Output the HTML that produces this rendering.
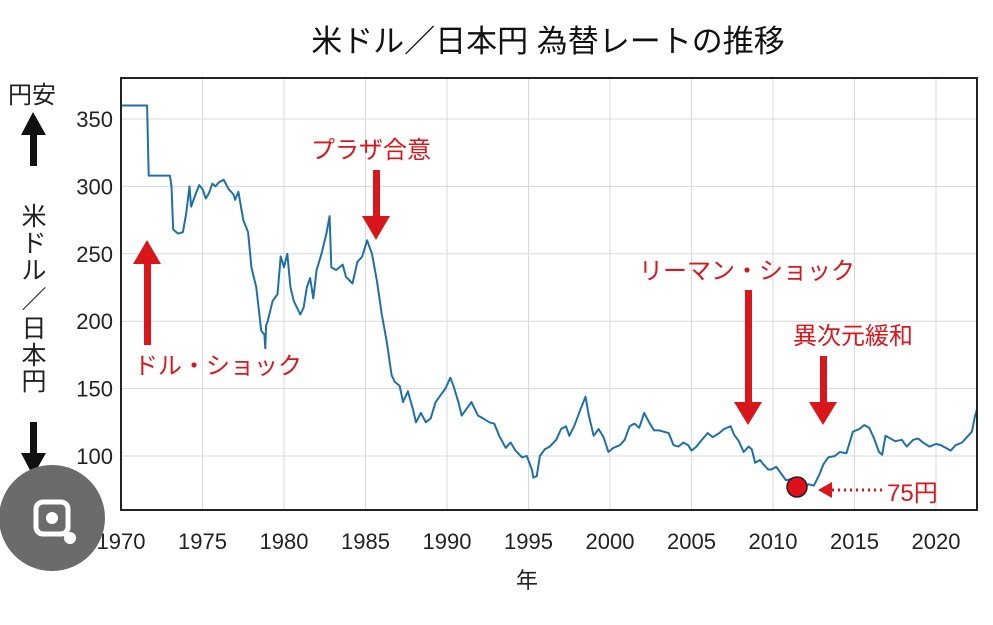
<!DOCTYPE html>
<html><head><meta charset="utf-8"><style>
body{margin:0;background:#fff;width:993px;height:620px;overflow:hidden}
svg text{font-family:"Liberation Sans","Noto Sans CJK JP",sans-serif}
</style></head><body>
<svg id="s" width="993" height="620" xmlns="http://www.w3.org/2000/svg">
<defs><clipPath id="c"><rect x="121" y="78" width="856" height="432"/></clipPath></defs>
<rect width="993" height="620" fill="#fff"/>
<g id="grid" stroke="#d9d9d9" stroke-width="1"></g>
<polyline id="line" clip-path="url(#c)" fill="none" stroke="#1f6fa8" stroke-width="2" stroke-linejoin="round"/>
<rect x="121" y="78" width="856" height="432" fill="none" stroke="#222" stroke-width="2"/>
<g id="labels" font-size="22" fill="#222"></g>
<text x="548" y="52" font-size="31" text-anchor="middle" fill="#111">米ドル／日本円 為替レートの推移</text>
<text x="527" y="588" font-size="22" text-anchor="middle" fill="#222">年</text>
<text x="8" y="103" font-size="24" fill="#222">円安</text>
<rect x="30" y="132" width="7" height="34" fill="#111"/><polygon points="33,112 21,135 46,135" fill="#111"/>
<g font-size="25" fill="#222" text-anchor="middle">
<text x="34" y="225">米</text><text x="34" y="252">ド</text><text x="34" y="279">ル</text><text x="34" y="308">／</text><text x="34" y="337">日</text><text x="34" y="364">本</text><text x="34" y="390">円</text></g>
<rect x="30" y="422" width="7" height="34" fill="#111"/><polygon points="33,476 21,453 46,453" fill="#111"/>
<text x="8" y="506" font-size="24" fill="#222">円高</text>
<circle cx="52" cy="518" r="53" fill="#6b6b6b"/>
<rect x="36" y="502" width="32" height="32" rx="7" fill="none" stroke="#fff" stroke-width="5"/>
<circle cx="52" cy="518" r="6" fill="#fff"/><circle cx="70" cy="538" r="6" fill="#fff"/>
<g fill="#d9161c">
<rect x="144" y="262" width="7" height="83"/><polygon points="147,240 133,264 161,264"/>
<text x="134" y="374" font-size="24">ドル・ショック</text>
<text x="311" y="158" font-size="24">プラザ合意</text>
<rect x="373" y="170" width="7" height="50"/><polygon points="376,240 362,216 390,216"/>
<text x="639" y="279" font-size="24">リーマン・ショック</text>
<rect x="745" y="290" width="7" height="115"/><polygon points="748,425 734,402 762,402"/>
<text x="793" y="344" font-size="24">異次元緩和</text>
<rect x="820" y="356" width="7" height="50"/><polygon points="823,425 809,402 837,402"/>
<line x1="832" y1="490" x2="885" y2="490" stroke="#d9161c" stroke-width="3" stroke-dasharray="2,4"/>
<polygon points="818,490 832,482 832,498"/>
<text x="887" y="501" font-size="24">75円</text>
</g>
<circle cx="797" cy="487" r="10" fill="#e0101a" stroke="#222" stroke-width="1.5"/>
</svg>
<script>
var X=function(y){return 121+16.3*(y-1970)},Y=function(v){return 456-(v-100)*1.348};
var g=document.getElementById('grid'),L=document.getElementById('labels'),ns='http://www.w3.org/2000/svg';
for(var yr=1970;yr<=2020;yr+=5){var l=document.createElementNS(ns,'line');l.setAttribute('x1',X(yr));l.setAttribute('x2',X(yr));l.setAttribute('y1',78);l.setAttribute('y2',510);g.appendChild(l);
var t=document.createElementNS(ns,'text');t.setAttribute('x',X(yr));t.setAttribute('y',549);t.setAttribute('text-anchor','middle');t.textContent=yr;L.appendChild(t);}
for(var v=100;v<=350;v+=50){var l=document.createElementNS(ns,'line');l.setAttribute('x1',121);l.setAttribute('x2',977);l.setAttribute('y1',Y(v));l.setAttribute('y2',Y(v));g.appendChild(l);
var t=document.createElementNS(ns,'text');t.setAttribute('x',113);t.setAttribute('y',Y(v)+8);t.setAttribute('text-anchor','end');t.textContent=v;L.appendChild(t);}
var d=[1970,360,1971.6,360,1971.7,308,1973.0,308,1973.1,300,1973.2,268,1973.5,265,1973.8,266,1974.0,280,1974.2,300,1974.3,285,1974.6,295,1974.8,301,1975.0,298,1975.2,291,1975.4,295,1975.6,302,1975.8,300,1976.0,303,1976.3,305,1976.6,298,1976.9,294,1977.0,290,1977.2,296,1977.5,275,1977.8,266,1978.0,240,1978.3,225,1978.6,193,1978.8,190,1978.85,180,1978.9,197,1979.0,200,1979.3,215,1979.6,220,1979.8,248,1980.0,240,1980.2,250,1980.4,225,1980.6,215,1980.8,210,1981.0,205,1981.2,210,1981.4,225,1981.6,232,1981.8,217,1982.0,238,1982.3,250,1982.6,265,1982.8,278,1982.9,240,1983.2,238,1983.6,242,1983.8,233,1984.2,228,1984.5,244,1984.8,248,1985.1,260,1985.4,250,1985.7,230,1986.0,205,1986.3,185,1986.6,160,1986.8,155,1987.1,152,1987.3,140,1987.6,148,1987.9,135,1988.1,125,1988.4,132,1988.7,125,1989.0,128,1989.3,140,1989.6,145,1989.9,150,1990.2,158,1990.4,152,1990.7,140,1990.9,130,1991.2,135,1991.5,140,1991.9,130,1992.2,128,1992.6,125,1992.9,124,1993.2,115,1993.6,106,1993.9,110,1994.2,104,1994.6,99,1994.9,100,1995.2,90,1995.3,84,1995.5,85,1995.7,100,1996.0,105,1996.3,107,1996.7,112,1997.0,120,1997.3,122,1997.5,115,1997.8,122,1998.2,135,1998.5,144,1998.7,130,1999.0,115,1999.3,120,1999.6,114,1999.9,103,2000.2,106,2000.6,108,2000.9,112,2001.2,122,2001.5,124,2001.8,121,2002.1,132,2002.4,125,2002.7,119,2003.0,119,2003.3,118,2003.6,117,2003.9,108,2004.2,107,2004.5,110,2004.8,108,2005.0,104,2005.3,107,2005.7,113,2006.0,117,2006.3,114,2006.7,117,2007.0,120,2007.4,122,2007.6,116,2007.9,111,2008.2,103,2008.5,107,2008.7,105,2008.9,95,2009.2,97,2009.4,94,2009.7,90,2009.9,90,2010.2,92,2010.5,87,2010.8,82,2011.1,83,2011.4,80,2011.8,77,2012.2,79,2012.5,78,2012.8,85,2013.1,94,2013.4,99,2013.8,100,2014.1,103,2014.5,102,2014.9,118,2015.3,120,2015.6,123,2015.9,121,2016.2,113,2016.5,103,2016.7,101,2016.9,115,2017.2,113,2017.5,111,2017.9,112,2018.2,107,2018.6,112,2018.9,113,2019.2,110,2019.6,107,2020.0,109,2020.3,108,2020.6,106,2020.9,104,2021.2,108,2021.6,110,2021.9,114,2022.2,118,2022.4,130,2022.6,138,2022.8,145];
var p=[];for(var i=0;i<d.length;i+=2)p.push(X(d[i]).toFixed(1)+','+Y(d[i+1]).toFixed(1));
document.getElementById('line').setAttribute('points',p.join(' '));
</script>
</body></html>
